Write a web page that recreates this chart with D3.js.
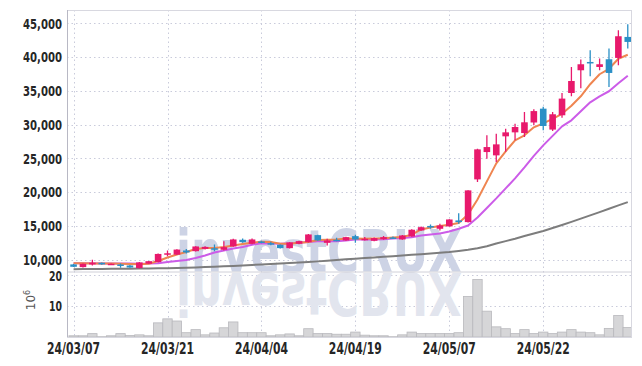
<!DOCTYPE html>
<html><head><meta charset="utf-8">
<script src="https://cdn.jsdelivr.net/npm/d3@7"></script>
<style>
html,body{margin:0;padding:0;background:#fff;}
svg{display:block;}
.lbl{font-family:"DejaVu Sans",sans-serif;font-weight:bold;fill:#262626;}
</style></head>
<body>
<svg id="c" width="642" height="366"></svg>
<script>
const tickLabels = ["24/03/07","24/03/21","24/04/04","24/04/19","24/05/07","24/05/22"];
const tickIndex = [0,10,20,30,40,50];
const priceTicks = [10000,15000,20000,25000,30000,35000,40000,45000];
const volTicks = [10,20];

const open = [9300,8900,9300,9540,9300,9290,9140,8750,9400,9650,
10850,10750,11360,11260,11600,11700,11470,11960,12950,12360,
12700,12450,12210,11710,12360,12600,13640,12500,12950,12850,
13490,12950,12800,13040,13300,13000,13440,14330,15000,14580,
14930,15820,15570,21900,25950,25460,28280,28870,28770,30330,
32380,29280,31400,34700,38070,39300,38560,39700,39900,43010];
const close = [8950,9400,9550,9330,9400,9100,8840,9600,9780,10850,
10950,11500,11070,11960,11900,11470,11860,13000,12600,13000,
12550,12350,11710,12550,12750,13740,12850,12850,12850,13340,
13000,13100,13200,13340,13200,13590,14440,14820,14900,15070,
15960,15570,20270,26350,26690,27090,28870,29660,30360,32020,
29810,31550,33870,36480,38960,39150,38960,37670,43110,42270];
const high = [9350,9450,10000,9600,9450,9430,9200,9650,9800,10900,
11350,11550,11600,12000,12000,12250,12750,13100,13150,13150,
12800,12650,12250,12600,12800,13800,13700,13100,13250,13400,
13700,13350,13300,13500,13450,13650,14500,14900,15200,15330,
16000,16900,20300,26450,28430,28680,29420,30160,31890,32290,
32680,31890,34700,38560,39660,41040,39800,41290,44000,44900];
const low = [8900,8850,9150,9250,9250,8800,8800,8700,9380,9600,
10500,10700,10900,11200,11500,11260,11360,11900,12500,12300,
12450,12150,11650,11650,12300,12550,12800,12100,12750,12800,
12500,12850,12750,12950,13050,12950,13400,14300,14600,14330,
14900,15330,15500,21500,24970,24470,26000,27690,28180,29910,
29170,29070,31050,34220,35400,37180,38070,35600,38810,41290];
const volume = [0.4,0.4,1.1,0.1,0.4,1.1,0.5,0.7,0.4,4.6,
5.9,5.2,1.4,2.4,0.7,1.3,3.0,4.9,1.4,1.4,
1.4,0.4,0.7,1.0,0.4,2.7,1.1,1.1,0.9,0.9,
1.6,0.6,0.4,0.4,0.1,0.7,1.6,1.1,1.1,1.1,
1.1,1.4,13.2,18.7,8.4,3.3,2.7,1.1,2.4,1.1,
1.6,1.1,1.6,2.4,1.6,1.4,0.7,2.8,7.0,3.1];
const maShort = [9480,9460,9450,9440,9420,9400,9370,9340,9400,9810,
10330,10770,11140,11590,11740,11740,11880,12110,12330,12510,
12660,12630,12360,12360,12510,12630,12920,12950,13000,13150,
13150,13100,13150,13190,13290,13370,13700,14480,14780,15000,
15180,15450,16710,18930,21600,24270,26050,27690,28430,29610,
30210,30880,31620,32800,34210,36000,37480,38290,39780,40370];
const maMid = [9480,9470,9460,9450,9440,9430,9420,9410,9420,9480,
9660,9810,9960,10250,10620,11070,11360,11660,11880,12210,
12450,12400,12360,12430,12510,12630,12730,12740,12740,12850,
13000,13000,13000,13030,13150,13220,13340,13590,13740,13890,
14180,14580,15070,16260,17670,19080,20560,22050,23680,25390,
26940,28350,29760,30650,31990,33320,34210,34960,36140,37260];
const maLong = [8600,8610,8620,8630,8640,8660,8670,8690,8710,8730,
8750,8780,8810,8850,8900,8950,9010,9080,9150,9220,
9290,9360,9430,9510,9590,9660,9750,9850,9950,10050,
10150,10240,10330,10430,10520,10620,10720,10820,10920,11030,
11140,11300,11480,11700,12000,12400,12750,13100,13500,13880,
14260,14700,15150,15600,16080,16560,17050,17550,18050,18530];

const UP = "#e8196c", DOWN = "#2b90c6";
const L = 67, R = 632, T = 10, PB = 271.5, VT = 271.5, VB = 337;
const n = close.length;
const idx = d3.range(n);

const svg = d3.select("#c");
const x = d3.scaleLinear().domain([-0.7, n - 0.55]).range([L, R]);
const y = d3.scaleLinear().domain([8250, 47000]).range([PB, T]);
const yv = d3.scaleLinear().domain([0, 21.3]).range([VB, VT]);
const step = x(1) - x(0);

const defs = svg.append("defs");
defs.append("clipPath").attr("id","cp").append("rect").attr("x",L).attr("y",T).attr("width",R-L).attr("height",PB-T);
defs.append("clipPath").attr("id","cv").append("rect").attr("x",L).attr("y",VT).attr("width",R-L).attr("height",VB-VT);

// grid
const grid = svg.append("g").attr("stroke","#c9cbdb").attr("stroke-dasharray","1.5,3").attr("stroke-width",1);
grid.selectAll("line.h").data(priceTicks).join("line")
  .attr("x1",L).attr("x2",R).attr("y1",d=>Math.round(y(d))+0.5).attr("y2",d=>Math.round(y(d))+0.5);
grid.selectAll("line.hv").data(volTicks).join("line")
  .attr("x1",L).attr("x2",R).attr("y1",d=>Math.round(yv(d))+0.5).attr("y2",d=>Math.round(yv(d))+0.5);
grid.selectAll("line.v").data(tickIndex).join("line")
  .attr("x1",d=>Math.round(x(d))+0.5).attr("x2",d=>Math.round(x(d))+0.5).attr("y1",T).attr("y2",VB);

// watermark (with mirrored reflection in the volume pane)
const wm = svg.append("g");
wm.append("g").attr("clip-path","url(#cp)").append("text")
  .attr("x",176).attr("y",272).attr("textLength",286).attr("lengthAdjust","spacingAndGlyphs")
  .attr("font-family","DejaVu Sans").attr("font-weight","bold").attr("font-size",58)
  .attr("fill","#cdd3e5").text("investCRUX");
wm.append("g").attr("clip-path","url(#cv)").append("text")
  .attr("x",176).attr("y",272).attr("textLength",286).attr("lengthAdjust","spacingAndGlyphs")
  .attr("transform","translate(0,545) scale(1,-1)")
  .attr("font-family","DejaVu Sans").attr("font-weight","bold").attr("font-size",58)
  .attr("fill","#e2e5ee").text("investCRUX");

// volume bars
svg.append("g").attr("clip-path","url(#cv)").selectAll("rect").data(idx).join("rect")
  .attr("x",i=>x(i)-step/2).attr("width",step)
  .attr("y",i=>yv(volume[i])).attr("height",i=>VB-yv(volume[i]))
  .attr("fill","#d6d6d8").attr("stroke","#b9b9bd").attr("stroke-width",0.8);

// MA lines
const lineGen = arr => d3.line().x(i=>x(i)).y(i=>y(arr[i]))(idx);
const lg = svg.append("g").attr("clip-path","url(#cp)").attr("fill","none").attr("stroke-width",2).attr("stroke-linejoin","round");
lg.append("path").attr("d",lineGen(maLong)).attr("stroke","#7d7d7d");
lg.append("path").attr("d",lineGen(maMid)).attr("stroke","#cc5ce8");
lg.append("path").attr("d",lineGen(maShort)).attr("stroke","#ef8550");

// candles
const cg = svg.append("g").attr("clip-path","url(#cp)");
const bw = 6.6;
cg.selectAll("line").data(idx).join("line")
  .attr("x1",i=>x(i)).attr("x2",i=>x(i)).attr("y1",i=>y(high[i])).attr("y2",i=>y(low[i]))
  .attr("stroke",i=>close[i]>=open[i]?UP:DOWN).attr("stroke-width",1.3);
cg.selectAll("rect").data(idx).join("rect")
  .attr("x",i=>x(i)-bw/2).attr("width",bw)
  .attr("y",i=>y(Math.max(open[i],close[i])))
  .attr("height",i=>Math.max(1.5, Math.abs(y(open[i])-y(close[i]))))
  .attr("fill",i=>close[i]>=open[i]?UP:DOWN);

// frame
const fr = svg.append("g").attr("fill","none");
fr.append("rect").attr("x",L+0.5).attr("y",T+0.5).attr("width",R-L-1).attr("height",VB-T).attr("stroke","#d8d8e0");
fr.append("line").attr("x1",L).attr("x2",R).attr("y1",VT+0.5).attr("y2",VT+0.5).attr("stroke","#d0d0d8");
fr.append("line").attr("x1",L+0.5).attr("x2",L+0.5).attr("y1",T).attr("y2",VB).attr("stroke","#b8b8c4");

// labels (condensed via textLength)
svg.append("g").selectAll("text").data(priceTicks).join("text").attr("class","lbl")
  .attr("x",62).attr("y",d=>y(d)).attr("dy","0.36em").attr("text-anchor","end")
  .attr("font-size",14).attr("textLength",39).attr("lengthAdjust","spacingAndGlyphs")
  .text(d=>d3.format(",")(d));
svg.append("g").selectAll("text").data(volTicks).join("text").attr("class","lbl")
  .attr("x",62).attr("y",d=>yv(d)).attr("dy","0.36em").attr("text-anchor","end")
  .attr("font-size",14).attr("textLength",13).attr("lengthAdjust","spacingAndGlyphs")
  .text(d=>d);
svg.append("g").selectAll("text").data(tickIndex).join("text").attr("class","lbl")
  .attr("x",d=>x(d)).attr("y",354).attr("text-anchor","middle")
  .attr("font-size",15).attr("textLength",53).attr("lengthAdjust","spacingAndGlyphs")
  .text((d,k)=>tickLabels[k]);
const ex = svg.append("text").attr("transform","translate(35,300) rotate(-90)")
  .attr("text-anchor","middle").attr("font-family","DejaVu Sans").attr("font-size",12).attr("fill","#555");
ex.append("tspan").text("10");
ex.append("tspan").attr("dy",-5).attr("font-size",8).text("6");
</script>
</body></html>
